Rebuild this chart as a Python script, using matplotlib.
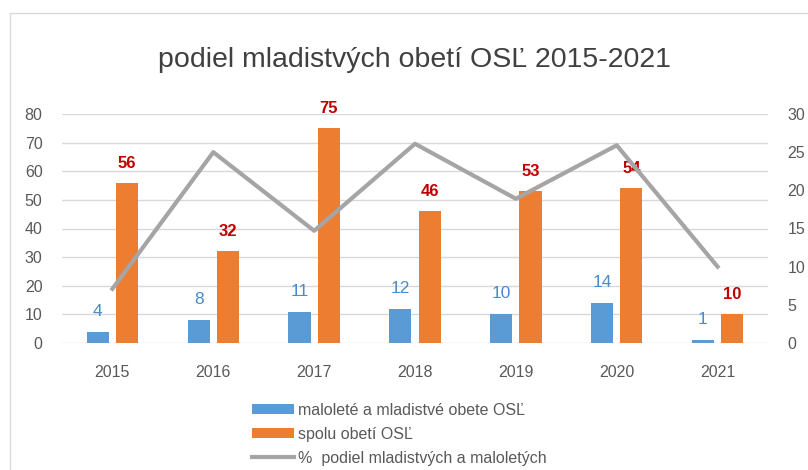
import numpy as np
import matplotlib.pyplot as plt
from matplotlib.patches import Rectangle

years = ['2015', '2016', '2017', '2018', '2019', '2020', '2021']
young = [4, 8, 11, 12, 10, 14, 1]
total = [56, 32, 75, 46, 53, 54, 10]
share = [7.1, 25.0, 14.7, 26.1, 18.9, 25.9, 10.0]

c_blue = '#5B9BD5'
c_orange = '#ED7D31'
c_grey = '#A5A5A5'
c_text = '#595959'

plt.rcParams['font.family'] = ['Liberation Sans', 'DejaVu Sans']

fig = plt.figure(figsize=(8.08, 4.70), dpi=100)
fig.patches.append(Rectangle((10/808, -0.1), 1.2, 1 - 13/470 + 0.1, transform=fig.transFigure,
                             fill=False, edgecolor='#D9D9D9', lw=1))

ax = fig.add_axes([62/808, 1 - 343/470, 706/808, 229/470])
x = np.arange(len(years))
w = 0.22
off = 0.145

b1 = ax.bar(x - off, young, w, color=c_blue, label='maloleté a mladistvé obete OSĽ', zorder=2)
b2 = ax.bar(x + off, total, w, color=c_orange, label='spolu obetí OSĽ', zorder=2)

for xi, v in zip(x, young):
    ax.annotate(str(v), (xi - off, v), xytext=(0, 13), textcoords='offset pixels',
                ha='center', va='bottom', color='#4A8BCB', fontsize=12.5)
for xi, v in zip(x, total):
    ax.annotate(str(v), (xi + off, v), xytext=(0, 12), textcoords='offset pixels',
                ha='center', va='bottom', color='#C00000', fontsize=12, fontweight='bold')

ax.set_xlim(-0.5, len(years) - 0.5)
ax.set_ylim(0, 80)
ax.set_yticks(range(0, 81, 10))
ax.set_xticks(x)
ax.set_xticklabels(years)
ax.grid(axis='y', color='#D9D9D9', lw=1, zorder=0)
ax.set_axisbelow(True)
for s in ax.spines.values():
    s.set_visible(False)
ax.tick_params(axis='y', length=0, pad=14, labelsize=11.5, labelcolor=c_text)
ax.tick_params(axis='x', length=0, pad=16, labelsize=11.5, labelcolor=c_text)

ax2 = ax.twinx()
ln, = ax2.plot(x, share, color=c_grey, lw=3, label='%  podiel mladistvých a maloletých', zorder=3)
ax2.set_ylim(0, 30)
ax2.set_yticks(range(0, 31, 5))
for s in ax2.spines.values():
    s.set_visible(False)
ax2.tick_params(axis='y', length=0, pad=14, labelsize=11.5, labelcolor=c_text)

fig.text(414/808, 1 - 60/470, 'podiel mladistvých obetí OSĽ 2015-2021', ha='center', va='center',
         fontsize=20.5, color='#404040')

leg = fig.legend(handles=[b1, b2, ln], loc='upper left', bbox_to_anchor=(244/808, 1 - 395/470),
                 frameon=False, fontsize=11.5, handlelength=2.6, handleheight=0.6,
                 labelspacing=0.55, handletextpad=0.3, borderpad=0)
for t in leg.get_texts():
    t.set_color(c_text)

fig.savefig('out.png', dpi=100)
